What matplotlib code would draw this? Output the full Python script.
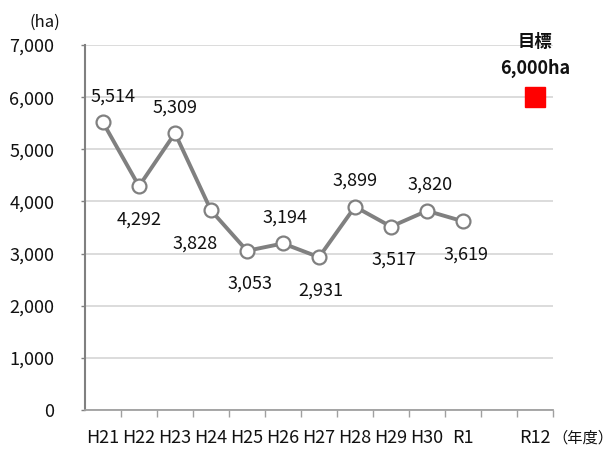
import matplotlib
matplotlib.use("Agg")
import matplotlib.pyplot as plt
from matplotlib.ticker import FixedLocator, NullFormatter

plt.rcParams['font.family'] = ['Noto Sans CJK JP', 'DejaVu Sans']

categories = ["H21", "H22", "H23", "H24", "H25", "H26", "H27", "H28", "H29", "H30", "R1", "", "R12"]
values = [5514, 4292, 5309, 3828, 3053, 3194, 2931, 3899, 3517, 3820, 3619]
target_value = 6000
target_index = 12
label_pos = ["above", "below", "above", "below", "below", "above", "below", "above", "below", "above", "below"]
label_dx = [10, 0, 0, -16, 3, 2, 2, 0, 3, 3, 3]
y_ticks = [0, 1000, 2000, 3000, 4000, 5000, 6000, 7000]

fig = plt.figure(figsize=(6.16, 4.5), dpi=100)
ax = fig.add_axes([85/616, 1-410/450, 468/616, 365/450])

x = list(range(len(values)))
ax.plot(x, values, color="#808080", lw=2.8, marker="o", ms=10,
        mfc="white", mec="#808080", mew=1.6, zorder=3, clip_on=False)
ax.plot([target_index], [target_value], marker="s", ms=14, color="#ff0000",
        mec="#ff0000", ls="none", zorder=3)

for xi, v, p, dx in zip(x, values, label_pos, label_dx):
    dy = 26 if p == "above" else -33
    ax.annotate(f"{v:,}", (xi, v), xytext=(dx*0.72, dy*0.72), textcoords="offset points",
                ha="center", va="center", fontsize=13, color="#111111")

ax.set_xlim(-0.5, len(categories) - 0.5)
ax.set_ylim(0, 7000)
ax.set_yticks(y_ticks)
ax.set_yticklabels([f"{t:,}" for t in y_ticks], fontsize=13, color="#111111")
ax.yaxis.grid(True, color="#d9d9d9", lw=1.3)
ax.set_axisbelow(True)
ax.tick_params(axis="y", length=3, width=1, color="#808080", pad=19)

ax.set_xticks(range(len(categories)))
ax.set_xticklabels(categories, fontsize=13, color="#111111")
ax.tick_params(axis="x", which="major", length=0, pad=14)
ax.xaxis.set_minor_locator(FixedLocator([i + 0.5 for i in range(len(categories))]))
ax.xaxis.set_minor_formatter(NullFormatter())
ax.tick_params(axis="x", which="minor", length=5, width=1, color="#a0a0a0", direction="out")

for s in ["top", "right"]:
    ax.spines[s].set_visible(False)
ax.spines["left"].set_color("#808080")
ax.spines["left"].set_linewidth(1.5)
ax.spines["bottom"].set_color("#a0a0a0")
ax.spines["bottom"].set_linewidth(1.3)

fig.text(45/616, 1-22/450, "(ha)", ha="center", va="center", fontsize=12, color="#111111")
fig.text(613/616, 1-438/450, "（年度）", ha="right", va="center", fontsize=11, color="#111111")
ax.annotate("目標", (target_index, target_value), xytext=(0, 40), textcoords="offset points",
            ha="center", va="center", fontsize=12.5, fontweight="bold", color="#111111")
ax.annotate("6,000ha", (target_index, target_value), xytext=(0, 20.5), textcoords="offset points",
            ha="center", va="center", fontsize=13, fontweight="bold", color="#111111")

fig.savefig("out.png", dpi=100, facecolor="white")
